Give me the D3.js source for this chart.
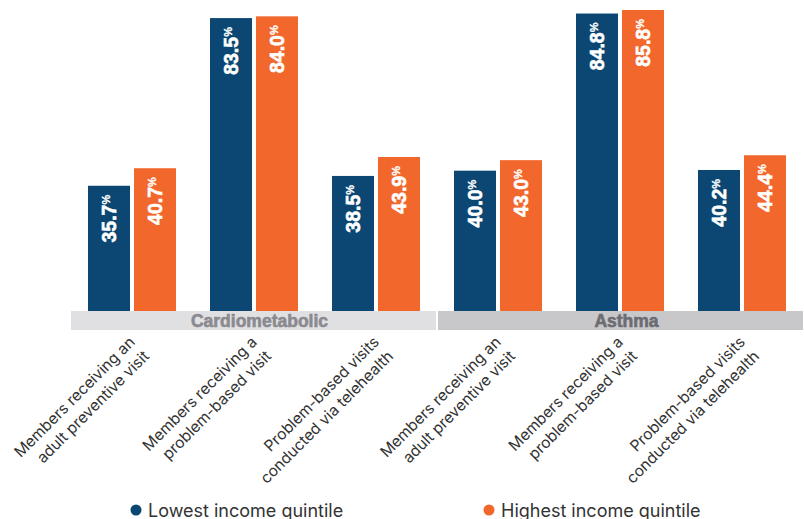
<!DOCTYPE html>
<html>
<head>
<meta charset="utf-8">
<script src="https://cdn.jsdelivr.net/npm/d3@7"></script>
<style>
  body { margin: 0; background: #fff; }
  svg { display: block; }
  .val { font-family: "Liberation Sans", Arial, sans-serif; font-weight: 900; fill: #fff; stroke: #fff; stroke-width: 0.6px; }
  .cat { font-family: Inter, "Noto Sans", sans-serif; fill: #333; }
  .grp { font-family: "Liberation Sans", Arial, sans-serif; font-weight: 900; stroke-width: 0.6px; }
  .leg { font-family: Inter, "Noto Sans", sans-serif; fill: #333; }
</style>
</head>
<body>
<div class="container"><svg width="804" height="519"></svg></div>
<script>
// chart data
var groups = ["Cardiometabolic", "Asthma"];
var measures = [
    ["Members receiving an", "adult preventive visit"],
    ["Members receiving a", "problem-based visit"],
    ["Problem-based visits", "conducted via telehealth"]
];
var seriesNames = ["Lowest income quintile", "Highest income quintile"];
var lowest = [35.7, 83.5, 38.5, 40.0, 84.8, 40.2];
var highest = [40.7, 84.0, 43.9, 43.0, 85.8, 44.4];

var colors = ["#0b4772", "#f2672b"];
var bandFill = ["#e0e0e2", "#c8c8ca"];
var bandText = ["#8a8a90", "#6c6c73"];

var width = 804, height = 519;
var baseY = 311;

var svg = d3.select(".container").select("svg");

// one entry per category (group x measure)
var cats = [];
groups.forEach(function (g, gi) {
    measures.forEach(function (m, mi) {
        var i = gi * measures.length + mi;
        cats.push({ key: g + "|" + mi, group: g, gi: gi, label: m, values: [lowest[i], highest[i]] });
    });
});

var pad = 34 / 122;
var x = d3.scaleBand()
    .domain(cats.map(function (d) { return d.key; }))
    .range([71, 803])
    .paddingInner(pad)
    .paddingOuter(pad / 2);

var xs = d3.scaleBand()
    .domain([0, 1])
    .range([0, x.bandwidth()])
    .paddingInner(4 / 46);

var y = d3.scaleLinear()
    .domain([0, 100])
    .range([baseY, baseY - 350.8]);

// bars
var cat = svg.append("g").selectAll("g")
    .data(cats)
    .enter().append("g")
    .attr("transform", function (d) { return "translate(" + x(d.key) + ",0)"; });

var bar = cat.selectAll("g.bar")
    .data(function (d) { return d.values.map(function (v, i) { return { v: v, i: i }; }); })
    .enter().append("g")
    .attr("class", "bar");

bar.append("rect")
    .attr("x", function (d) { return xs(d.i); })
    .attr("y", function (d) { return y(d.v); })
    .attr("width", xs.bandwidth())
    .attr("height", function (d) { return baseY - y(d.v); })
    .attr("fill", function (d) { return colors[d.i]; });

// rotated value labels with raised %
var lab = bar.append("text")
    .attr("class", "val")
    .attr("text-anchor", "end")
    .attr("transform", function (d) {
        return "translate(" + (xs(d.i) + xs.bandwidth() / 2 + 7) + "," + (y(d.v) + 9) + ") rotate(-90)";
    });
lab.append("tspan")
    .style("font-size", "19.5px")
    .text(function (d) { return d.v.toFixed(1); });
lab.append("tspan")
    .style("font-size", "11px")
    .style("stroke-width", "0.3px")
    .attr("dy", -6)
    .text("%");

// group bands under the bars
var step = x.step(), gap = step - x.bandwidth();
groups.forEach(function (g, gi) {
    var first = cats[gi * measures.length], last = cats[gi * measures.length + measures.length - 1];
    var x0 = x(first.key) - gap / 2 + (gi > 0 ? 1 : 0);
    var x1 = x(last.key) + x.bandwidth() + gap / 2 - (gi < groups.length - 1 ? 1 : 0);
    svg.append("rect")
        .attr("x", x0).attr("y", baseY)
        .attr("width", x1 - x0).attr("height", 19)
        .attr("fill", bandFill[gi]);
    svg.append("text")
        .attr("class", "grp")
        .attr("x", (x0 + x1) / 2 + 6)
        .attr("y", baseY + 16)
        .attr("text-anchor", "middle")
        .style("font-size", "17.5px")
        .attr("fill", bandText[gi])
        .attr("stroke", bandText[gi])
        .text(g);
});

// category labels at -45 degrees
cat.append("text")
    .attr("class", "cat")
    .attr("text-anchor", "end")
    .style("font-size", "15.5px")
    .attr("transform", "translate(" + (x.bandwidth() / 2 + 4) + ",343) rotate(-45)")
    .selectAll("tspan")
    .data(function (d) { return d.label; })
    .enter().append("tspan")
    .attr("x", 0)
    .attr("dy", function (d, i) { return i === 0 ? 0 : 20; })
    .text(function (d) { return d; });

// legend
var legX = [136, 489];
var leg = svg.append("g").selectAll("g")
    .data(seriesNames)
    .enter().append("g")
    .attr("transform", function (d, i) { return "translate(" + legX[i] + ",510)"; });
leg.append("circle")
    .attr("r", 5.5)
    .attr("fill", function (d, i) { return colors[i]; });
leg.append("text")
    .attr("class", "leg")
    .attr("x", 12)
    .attr("y", 7)
    .style("font-size", "18px")
    .text(function (d) { return d; });
</script>
</body>
</html>
